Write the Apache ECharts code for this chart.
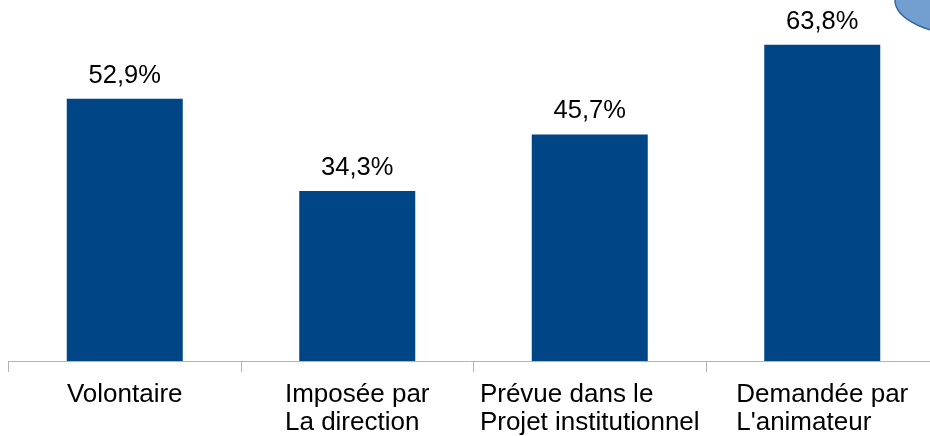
<!DOCTYPE html>
<html>
<head>
<meta charset="utf-8">
<script src="https://cdn.jsdelivr.net/npm/echarts@6/dist/echarts.min.js"></script>
<style>
html,body{margin:0;padding:0;background:#fff;}
#chart{width:930px;height:436px;}
</style>
</head>
<body>
<div id="chart"></div>
<script>
var categories = ['Volontaire', 'Imposée par\nLa direction', 'Prévue dans le\nProjet institutionnel', 'Demandée par\nL\'animateur'];
var values = [52.9, 34.3, 45.7, 63.8];

var FONT = '"Liberation Sans", Arial, sans-serif';
var chart = echarts.init(document.getElementById('chart'), null, {renderer: 'canvas'});
chart.setOption({
  animation: false,
  backgroundColor: '#ffffff',
  grid: {left: 8.5, width: 930, top: 14, height: 347, containLabel: false, outerBoundsMode: 'none'},
  xAxis: {
    type: 'category',
    data: categories,
    axisLine: {show: true, lineStyle: {color: '#b3b3b3', width: 1}},
    axisTick: {show: true, length: 11, lineStyle: {color: '#b3b3b3', width: 1}, alignWithLabel: false},
    axisLabel: {
      interval: 0,
      margin: 20,
      formatter: function (v) {
        return v.split('\n').map(function (s) { return '{a|' + s + '}'; }).join('\n');
      },
      rich: {
        a: {align: 'left', fontSize: 26, lineHeight: 28, fontFamily: FONT, color: '#000000'}
      }
    }
  },
  yAxis: {
    type: 'value',
    min: 0,
    max: 70,
    show: false,
    splitLine: {show: false}
  },
  series: [{
    type: 'bar',
    data: values,
    barWidth: 116,
    itemStyle: {color: '#004586'},
    label: {
      show: true,
      position: 'top',
      distance: 10,
      fontSize: 25.5,
      fontFamily: FONT,
      color: '#000000',
      formatter: function (p) { return p.value.toFixed(1).replace('.', ',') + '%'; }
    }
  }],
  graphic: [{
    type: 'ellipse',
    shape: {cx: 975, cy: 0, rx: 80, ry: 36},
    style: {fill: '#729fcf', stroke: '#3465a4', lineWidth: 1.5},
    z: 100
  }]
});
</script>
</body>
</html>
